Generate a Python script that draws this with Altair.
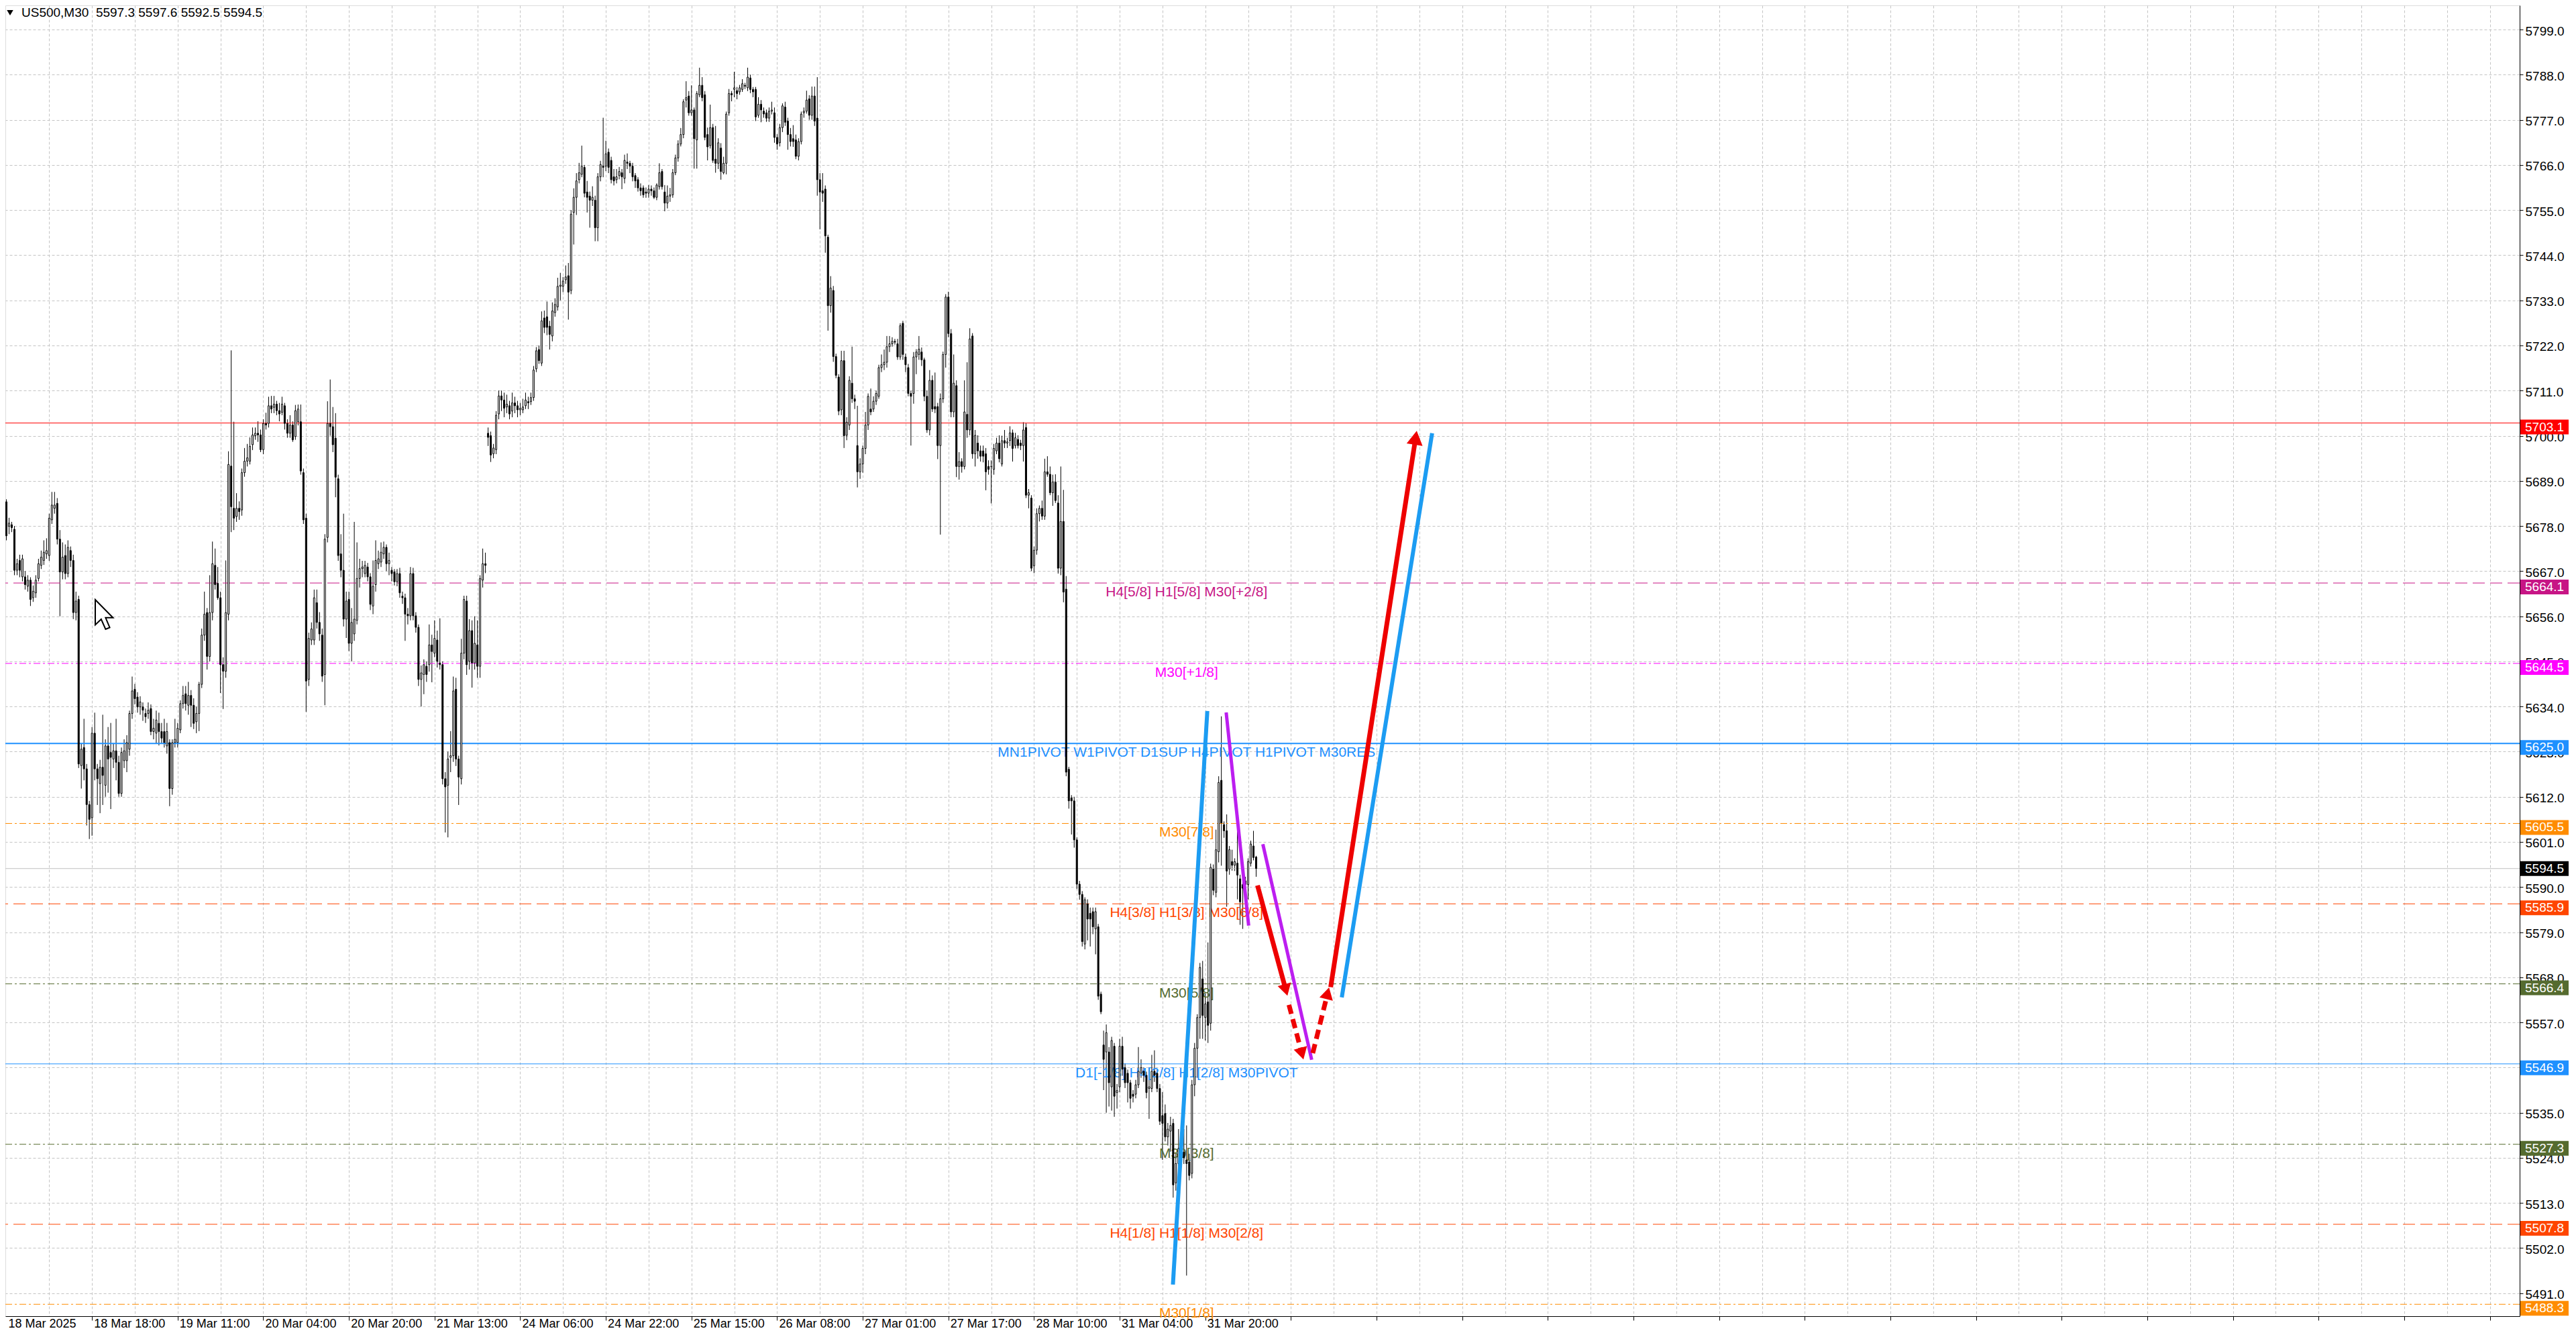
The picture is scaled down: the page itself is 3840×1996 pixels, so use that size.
import altair as alt
import pandas as pd

# ---------------- candle data (US500, M30), bar index 0..467 ----------------
O = [5683.9, 5677.9, 5678.3, 5677.2, 5667.2, 5669.6, 5665.6, 5665.6, 5663.3, 5664.8,
     5660.5, 5661.7, 5665.2, 5668.4, 5669.6, 5671.2, 5670.8, 5679.5, 5682.3, 5683.5,
     5674.8, 5666.8, 5670.8, 5666.4, 5672.0, 5669.6, 5656.9, 5660.1, 5619.6, 5624.0,
     5618.8, 5610.1, 5606.9, 5627.5, 5618.8, 5615.2, 5619.2, 5614.8, 5624.4, 5622.8,
     5621.2, 5623.2, 5620.4, 5612.8, 5620.8, 5620.8, 5623.6, 5632.3, 5638.2, 5636.3,
     5633.9, 5633.9, 5632.3, 5632.3, 5633.5, 5627.9, 5627.5, 5629.9, 5627.9, 5627.9,
     5624.4, 5625.2, 5614.0, 5625.2, 5625.2, 5628.3, 5634.7, 5637.1, 5634.3, 5636.7,
     5634.3, 5630.3, 5632.3, 5639.4, 5651.4, 5656.9, 5646.2, 5656.9, 5668.4, 5664.0,
     5660.5, 5644.2, 5642.6, 5656.5, 5692.6, 5682.3, 5680.3, 5682.3, 5681.9, 5691.0,
     5693.8, 5693.8, 5697.8, 5700.0, 5700.6, 5700.2, 5696.6, 5703.0, 5703.0, 5707.3,
     5706.9, 5707.7, 5706.1, 5705.7, 5707.3, 5703.0, 5700.6, 5702.6, 5699.8, 5703.4,
     5703.4, 5691.0, 5679.9, 5640.6, 5650.2, 5650.2, 5659.3, 5654.5, 5651.4, 5641.8,
     5675.2, 5703.0, 5702.2, 5699.4, 5689.5, 5671.2, 5667.2, 5655.3, 5660.1, 5649.4,
     5651.7, 5655.0, 5665.2, 5667.6, 5666.4, 5668.0, 5665.6, 5658.5, 5663.7, 5668.8,
     5669.2, 5671.2, 5672.8, 5668.8, 5667.2, 5666.8, 5664.4, 5666.4, 5660.9, 5660.5,
     5656.5, 5656.1, 5666.4, 5656.1, 5653.3, 5640.6, 5641.8, 5643.8, 5644.2, 5649.0,
     5647.0, 5650.2, 5644.6, 5644.2, 5616.4, 5614.8, 5621.6, 5622.0, 5638.2, 5621.2,
     5616.4, 5647.0, 5659.7, 5645.0, 5652.5, 5644.6, 5649.0, 5643.8, 5664.8, 5668.8,
     5700.6, 5700.0, 5695.6, 5696.6, 5705.3, 5709.7, 5708.7, 5707.0, 5707.3, 5706.0,
     5708.0, 5707.3, 5706.3, 5706.3, 5707.3, 5708.3, 5708.3, 5709.3, 5716.3, 5721.0,
     5717.7, 5728.7, 5729.0, 5726.7, 5724.3, 5730.0, 5731.4, 5736.4, 5736.4, 5738.0,
     5739.0, 5735.4, 5754.4, 5758.1, 5762.4, 5763.7, 5765.4, 5759.4, 5758.4, 5757.4,
     5757.4, 5750.7, 5763.1, 5765.7, 5765.7, 5769.1, 5767.1, 5763.1, 5762.4, 5763.4,
     5764.1, 5762.7, 5766.7, 5766.4, 5765.7, 5763.4, 5762.4, 5760.4, 5760.4, 5759.4,
     5759.1, 5760.1, 5759.7, 5758.1, 5760.7, 5764.4, 5759.4, 5756.7, 5758.4, 5758.7,
     5764.1, 5767.7, 5771.1, 5773.4, 5781.8, 5782.8, 5778.7, 5779.4, 5772.1, 5783.1,
     5785.4, 5783.1, 5773.4, 5770.7, 5775.1, 5767.4, 5766.4, 5770.1, 5764.1, 5766.4,
     5778.7, 5783.4, 5784.4, 5784.1, 5783.8, 5784.4, 5785.4, 5784.8, 5787.2, 5784.4,
     5784.4, 5778.1, 5780.8, 5779.1, 5778.7, 5777.4, 5779.1, 5778.7, 5772.7, 5771.4,
     5775.1, 5780.1, 5776.7, 5773.4, 5772.4, 5772.1, 5768.1, 5771.7, 5778.7, 5779.1,
     5782.1, 5778.1, 5782.8, 5777.4, 5762.4, 5759.7, 5760.1, 5748.4, 5731.7, 5735.4,
     5719.3, 5714.3, 5706.3, 5718.3, 5700.1, 5702.6, 5712.8, 5709.0, 5697.6, 5691.2,
     5693.1, 5696.9, 5702.6, 5706.5, 5706.5, 5708.4, 5709.6, 5716.6, 5717.3, 5717.9,
     5721.7, 5722.4, 5723.0, 5722.4, 5719.2, 5727.4, 5719.2, 5716.6, 5710.3, 5710.3,
     5719.2, 5719.8, 5720.4, 5718.5, 5709.6, 5701.4, 5713.5, 5707.1, 5707.1, 5697.6,
     5709.0, 5719.8, 5733.8, 5724.9, 5705.8, 5712.2, 5692.5, 5693.7, 5692.5, 5705.2,
     5701.4, 5724.3, 5695.6, 5698.2, 5696.3, 5696.3, 5695.6, 5692.5, 5692.5, 5691.8,
     5696.3, 5698.2, 5693.1, 5698.8, 5698.2, 5698.8, 5700.7, 5697.6, 5699.1, 5698.2,
     5697.6, 5702.0, 5685.5, 5684.8, 5668.3, 5672.1, 5681.0, 5682.3, 5680.4, 5691.2,
     5690.6, 5686.1, 5688.7, 5683.6, 5667.7, 5679.1, 5662.6, 5618.7, 5611.7, 5611.0,
     5601.5, 5590.7, 5588.2, 5576.1, 5585.9, 5583.6, 5584.0, 5579.8, 5580.3, 5563.9,
     5551.5, 5549.8, 5549.8, 5541.3, 5551.2, 5539.9, 5541.3, 5551.2, 5546.0, 5544.6,
     5542.3, 5539.5, 5539.5, 5541.8, 5544.6, 5545.1, 5544.1, 5540.9, 5540.9, 5545.1,
     5544.6, 5540.9, 5534.3, 5534.8, 5529.1, 5530.5, 5532.4, 5517.9, 5522.6, 5525.8,
     5525.4, 5523.5, 5523.0, 5520.2, 5541.8, 5550.7, 5558.2, 5567.6, 5558.2, 5562.0,
     5556.8, 5594.4, 5588.7, 5598.6, 5616.0, 5605.2, 5603.7, 5594.4, 5596.2, 5595.3,
     5595.8, 5592.0, 5590.6, 5590.6, 5590.6, 5595.8, 5600.0, 5597.3]

H = [5684.5, 5680.0, 5679.0, 5678.0, 5670.0, 5671.0, 5671.0, 5667.0, 5666.0, 5665.5,
     5663.5, 5666.0, 5670.0, 5672.0, 5674.5, 5675.0, 5681.0, 5686.3, 5686.3, 5684.8,
     5677.0, 5674.0, 5673.5, 5674.5, 5673.0, 5671.0, 5662.0, 5661.0, 5625.0, 5631.0,
     5620.0, 5611.0, 5629.0, 5632.5, 5620.0, 5621.0, 5632.0, 5626.0, 5629.0, 5630.0,
     5625.0, 5631.0, 5622.0, 5624.0, 5626.0, 5627.0, 5633.0, 5641.3, 5639.5, 5637.5,
     5636.5, 5635.0, 5633.5, 5635.0, 5634.5, 5631.0, 5633.0, 5632.5, 5630.0, 5631.0,
     5630.0, 5626.0, 5626.0, 5631.0, 5630.0, 5635.5, 5639.0, 5639.0, 5640.0, 5638.0,
     5636.0, 5634.0, 5640.0, 5653.0, 5662.0, 5658.0, 5666.0, 5674.2, 5672.5, 5668.0,
     5662.0, 5646.0, 5669.6, 5696.2, 5720.8, 5703.4, 5686.0, 5684.0, 5692.0, 5697.0,
     5698.0, 5699.6, 5702.0, 5702.0, 5703.5, 5701.5, 5704.0, 5705.6, 5709.5, 5709.7,
     5709.7, 5708.5, 5708.0, 5709.5, 5708.0, 5704.0, 5705.0, 5703.5, 5707.5, 5707.6,
     5707.6, 5692.0, 5681.0, 5652.0, 5654.5, 5662.5, 5662.5, 5657.0, 5653.0, 5676.0,
     5708.4, 5713.7, 5707.0, 5705.5, 5690.5, 5676.0, 5681.0, 5662.0, 5662.0, 5658.0,
     5679.0, 5674.0, 5670.0, 5669.5, 5669.5, 5669.0, 5666.5, 5669.6, 5674.5, 5672.0,
     5674.0, 5674.2, 5673.5, 5671.5, 5668.0, 5667.5, 5667.5, 5667.8, 5662.0, 5661.5,
     5658.0, 5668.0, 5667.8, 5657.0, 5654.0, 5644.0, 5645.5, 5645.0, 5654.0, 5651.5,
     5655.0, 5652.5, 5655.5, 5645.0, 5618.0, 5623.0, 5628.0, 5641.3, 5641.0, 5622.0,
     5650.5, 5661.0, 5661.0, 5655.3, 5655.0, 5656.0, 5655.0, 5666.0, 5672.5, 5671.5,
     5702.0, 5701.0, 5698.0, 5706.0, 5711.0, 5711.0, 5710.5, 5710.0, 5708.5, 5710.5,
     5709.5, 5708.5, 5708.0, 5709.0, 5710.5, 5709.5, 5710.5, 5717.0, 5721.6, 5722.0,
     5730.3, 5730.5, 5732.7, 5728.0, 5732.5, 5733.5, 5738.5, 5739.7, 5738.7, 5741.5,
     5742.1, 5755.0, 5760.3, 5764.0, 5766.5, 5770.7, 5766.0, 5762.1, 5759.5, 5760.8,
     5758.5, 5764.0, 5767.0, 5777.5, 5771.9, 5770.0, 5768.0, 5765.0, 5765.0, 5765.5,
     5765.0, 5768.5, 5768.8, 5767.0, 5766.5, 5764.0, 5763.0, 5761.5, 5761.0, 5760.5,
     5761.1, 5761.0, 5760.5, 5761.5, 5766.4, 5765.0, 5761.1, 5761.0, 5760.4, 5765.0,
     5768.5, 5772.0, 5775.0, 5782.0, 5786.4, 5784.0, 5785.4, 5780.0, 5784.0, 5789.7,
     5787.4, 5784.0, 5775.1, 5780.7, 5776.0, 5775.5, 5772.5, 5771.3, 5768.0, 5779.0,
     5784.5, 5784.0, 5788.7, 5785.0, 5785.5, 5786.9, 5786.0, 5789.7, 5788.0, 5785.0,
     5785.0, 5782.5, 5781.8, 5780.0, 5779.5, 5780.0, 5781.4, 5780.0, 5773.5, 5776.0,
     5781.0, 5781.4, 5777.5, 5775.0, 5775.7, 5773.4, 5772.5, 5779.0, 5780.0, 5784.1,
     5783.0, 5785.1, 5785.1, 5787.4, 5764.0, 5764.0, 5761.0, 5749.0, 5738.9, 5736.5,
     5720.0, 5715.0, 5720.7, 5720.7, 5704.5, 5714.5, 5721.7, 5710.0, 5707.3, 5694.5,
     5697.6, 5705.8, 5710.3, 5711.5, 5709.6, 5711.0, 5717.3, 5719.8, 5721.0, 5724.3,
     5724.3, 5724.0, 5723.6, 5723.6, 5727.4, 5728.0, 5720.0, 5717.5, 5711.0, 5720.4,
     5721.1, 5724.3, 5721.5, 5719.0, 5711.0, 5716.0, 5714.7, 5715.4, 5708.0, 5710.3,
     5720.5, 5734.5, 5735.1, 5726.0, 5719.8, 5713.5, 5696.0, 5694.5, 5713.5, 5717.9,
     5726.2, 5725.0, 5701.4, 5700.1, 5697.6, 5697.6, 5697.0, 5694.0, 5694.0, 5698.0,
     5699.5, 5700.1, 5700.0, 5701.4, 5699.5, 5702.3, 5701.5, 5700.7, 5700.1, 5699.0,
     5703.3, 5703.0, 5687.0, 5685.5, 5673.0, 5682.3, 5683.0, 5684.2, 5694.4, 5695.0,
     5692.5, 5690.5, 5690.6, 5685.5, 5692.5, 5686.8, 5665.8, 5619.3, 5612.4, 5612.0,
     5602.1, 5591.5, 5589.0, 5587.5, 5587.0, 5585.0, 5585.0, 5585.0, 5581.0, 5564.5,
     5555.0, 5556.5, 5551.0, 5553.5, 5552.0, 5542.0, 5553.0, 5553.5, 5547.0, 5545.5,
     5543.0, 5540.5, 5543.0, 5551.0, 5548.0, 5546.0, 5545.0, 5546.0, 5549.1, 5550.2,
     5545.5, 5542.0, 5540.0, 5537.0, 5532.5, 5534.0, 5533.5, 5525.0, 5531.0, 5528.0,
     5531.0, 5531.9, 5525.0, 5543.0, 5552.0, 5559.0, 5571.5, 5572.0, 5564.0, 5576.5,
     5595.7, 5595.5, 5604.0, 5617.0, 5631.6, 5606.0, 5607.7, 5600.0, 5599.1, 5597.0,
     5604.2, 5593.0, 5591.5, 5592.5, 5597.0, 5601.3, 5603.7, 5597.6]

L = [5674.5, 5676.0, 5676.5, 5666.0, 5666.0, 5665.5, 5664.5, 5662.5, 5662.0, 5658.5,
     5659.5, 5660.5, 5664.5, 5667.5, 5668.5, 5670.0, 5669.5, 5678.5, 5681.0, 5673.5,
     5656.0, 5665.0, 5665.0, 5665.5, 5668.0, 5655.3, 5655.0, 5619.0, 5614.0, 5616.0,
     5605.0, 5601.7, 5602.5, 5616.0, 5610.0, 5608.0, 5610.0, 5612.0, 5613.0, 5609.0,
     5619.0, 5616.0, 5612.0, 5612.0, 5619.0, 5618.0, 5622.0, 5631.0, 5634.5, 5632.5,
     5632.0, 5630.5, 5630.0, 5631.0, 5627.0, 5626.0, 5625.0, 5624.5, 5625.0, 5624.0,
     5622.5, 5609.7, 5612.5, 5624.0, 5624.0, 5627.5, 5633.5, 5633.0, 5632.0, 5629.0,
     5628.5, 5627.5, 5628.0, 5638.5, 5650.0, 5643.0, 5645.0, 5655.0, 5662.5, 5660.0,
     5637.3, 5633.4, 5641.0, 5655.0, 5676.5, 5677.0, 5679.0, 5679.5, 5680.5, 5690.0,
     5692.5, 5693.0, 5696.5, 5699.0, 5698.5, 5696.0, 5695.5, 5701.5, 5702.0, 5705.5,
     5705.5, 5705.0, 5703.5, 5705.0, 5701.5, 5699.5, 5699.5, 5698.5, 5699.0, 5702.5,
     5690.5, 5678.5, 5632.7, 5639.0, 5649.0, 5649.0, 5653.0, 5650.0, 5640.0, 5634.3,
     5674.0, 5700.0, 5696.0, 5685.0, 5669.5, 5665.5, 5653.5, 5650.7, 5647.5, 5645.0,
     5650.0, 5654.0, 5663.0, 5665.5, 5665.5, 5664.5, 5657.5, 5656.5, 5662.0, 5667.5,
     5668.0, 5670.0, 5667.0, 5666.0, 5664.5, 5663.5, 5663.3, 5660.5, 5659.0, 5650.0,
     5654.0, 5655.0, 5655.0, 5652.0, 5639.0, 5634.0, 5637.0, 5640.0, 5642.5, 5639.9,
     5646.0, 5643.5, 5643.0, 5615.0, 5603.3, 5602.1, 5618.0, 5620.5, 5619.5, 5610.0,
     5615.0, 5645.5, 5641.7, 5643.0, 5638.6, 5643.0, 5641.0, 5641.0, 5663.0, 5666.5,
     5697.5, 5693.6, 5694.5, 5695.5, 5704.0, 5706.0, 5704.5, 5705.5, 5704.0, 5704.5,
     5705.5, 5704.5, 5705.0, 5705.5, 5706.5, 5706.5, 5707.5, 5708.5, 5715.5, 5717.5,
     5717.0, 5725.0, 5724.5, 5721.0, 5723.0, 5729.0, 5730.5, 5733.0, 5735.0, 5737.0,
     5728.3, 5734.5, 5746.6, 5753.8, 5761.5, 5763.0, 5758.1, 5754.4, 5750.7, 5756.0,
     5747.4, 5747.4, 5762.0, 5763.0, 5764.5, 5764.0, 5761.5, 5761.0, 5761.5, 5762.5,
     5760.1, 5761.5, 5765.0, 5764.0, 5762.0, 5760.4, 5759.5, 5758.5, 5758.0, 5758.0,
     5758.0, 5758.5, 5757.7, 5757.4, 5760.0, 5760.0, 5754.7, 5755.4, 5757.0, 5758.0,
     5763.5, 5766.8, 5770.5, 5772.5, 5780.0, 5778.0, 5778.0, 5765.1, 5765.1, 5782.5,
     5781.5, 5772.0, 5767.1, 5770.0, 5766.5, 5764.1, 5765.0, 5762.4, 5763.7, 5763.7,
     5778.0, 5781.5, 5782.5, 5782.0, 5783.1, 5783.8, 5784.5, 5784.0, 5783.5, 5782.5,
     5776.7, 5777.5, 5776.4, 5777.5, 5776.5, 5776.5, 5778.3, 5771.4, 5769.7, 5770.5,
     5774.0, 5775.5, 5769.7, 5770.5, 5770.4, 5767.4, 5767.1, 5771.0, 5777.5, 5778.5,
     5777.0, 5777.0, 5775.5, 5758.5, 5750.3, 5757.0, 5744.6, 5725.6, 5730.0, 5718.0,
     5714.0, 5705.0, 5705.0, 5697.0, 5698.9, 5701.4, 5708.0, 5706.5, 5687.4, 5689.5,
     5691.0, 5695.5, 5701.4, 5705.0, 5705.8, 5707.5, 5709.0, 5715.5, 5716.0, 5716.6,
     5720.4, 5721.7, 5722.2, 5718.5, 5718.5, 5718.5, 5715.5, 5709.6, 5697.6, 5707.8,
     5715.0, 5718.5, 5717.0, 5708.4, 5700.7, 5700.1, 5705.8, 5705.5, 5694.3, 5675.9,
     5708.0, 5716.6, 5724.0, 5704.5, 5704.5, 5689.9, 5689.3, 5691.0, 5691.8, 5699.5,
     5700.1, 5694.4, 5692.5, 5694.4, 5693.7, 5693.5, 5686.7, 5690.5, 5683.5, 5690.5,
     5695.5, 5693.5, 5692.5, 5697.0, 5697.0, 5697.5, 5693.7, 5696.9, 5696.9, 5696.5,
     5693.7, 5684.8, 5682.3, 5667.0, 5666.5, 5671.0, 5679.1, 5679.5, 5679.5, 5690.0,
     5685.5, 5682.9, 5683.6, 5666.4, 5666.0, 5659.4, 5617.0, 5609.1, 5602.8, 5599.6,
     5589.5, 5586.9, 5575.5, 5574.8, 5577.0, 5575.5, 5578.5, 5573.6, 5562.5, 5559.0,
     5540.5, 5535.0, 5536.5, 5535.5, 5534.0, 5536.0, 5540.0, 5544.0, 5541.0, 5537.5,
     5536.0, 5537.5, 5538.5, 5541.0, 5543.5, 5542.5, 5538.5, 5533.5, 5540.0, 5542.5,
     5540.0, 5532.0, 5523.5, 5528.0, 5527.0, 5525.5, 5514.3, 5516.0, 5521.5, 5522.0,
     5522.5, 5495.3, 5518.5, 5519.0, 5539.0, 5543.5, 5553.0, 5553.0, 5552.6, 5552.0,
     5555.0, 5588.0, 5587.5, 5596.0, 5595.2, 5602.0, 5585.2, 5593.0, 5594.0, 5593.9,
     5587.0, 5580.8, 5579.8, 5588.0, 5587.0, 5595.0, 5596.5, 5592.5]

C = [5675.6, 5678.7, 5677.6, 5667.2, 5668.8, 5667.2, 5670.0, 5663.7, 5664.8, 5660.1,
     5662.1, 5664.8, 5668.8, 5670.4, 5671.6, 5672.0, 5679.9, 5683.1, 5683.1, 5674.8,
     5666.8, 5670.4, 5666.4, 5672.8, 5669.6, 5656.9, 5659.7, 5620.0, 5623.6, 5618.8,
     5610.1, 5606.5, 5627.5, 5618.8, 5616.4, 5619.2, 5617.2, 5624.4, 5621.2, 5621.6,
     5623.2, 5620.4, 5612.8, 5622.8, 5623.2, 5625.2, 5632.3, 5637.8, 5635.9, 5633.9,
     5635.1, 5633.1, 5631.5, 5633.1, 5627.9, 5628.7, 5630.7, 5627.9, 5626.3, 5625.2,
     5627.9, 5614.0, 5625.2, 5626.0, 5628.7, 5634.7, 5636.7, 5634.7, 5636.7, 5634.3,
     5629.9, 5632.3, 5639.4, 5651.4, 5656.5, 5646.2, 5656.9, 5668.8, 5663.7, 5660.5,
     5644.2, 5642.6, 5656.9, 5693.0, 5682.7, 5679.9, 5682.3, 5681.5, 5691.0, 5693.8,
     5694.6, 5697.4, 5700.2, 5700.6, 5700.2, 5696.6, 5703.0, 5702.6, 5707.3, 5706.5,
     5707.7, 5706.1, 5705.3, 5707.7, 5703.0, 5700.6, 5702.6, 5699.0, 5706.1, 5706.5,
     5691.4, 5679.5, 5640.2, 5650.6, 5652.9, 5660.5, 5654.5, 5651.7, 5641.4, 5674.8,
     5703.0, 5702.2, 5697.8, 5689.9, 5670.8, 5667.2, 5655.3, 5659.7, 5649.4, 5654.5,
     5655.3, 5665.2, 5667.6, 5668.0, 5668.4, 5665.6, 5658.9, 5663.3, 5669.6, 5670.0,
     5671.6, 5672.8, 5668.8, 5669.6, 5666.4, 5664.4, 5666.4, 5661.7, 5660.5, 5656.5,
     5656.1, 5666.4, 5656.1, 5653.3, 5640.6, 5642.2, 5644.2, 5641.8, 5649.0, 5647.4,
     5650.6, 5645.0, 5644.2, 5616.4, 5614.4, 5621.2, 5622.0, 5637.8, 5621.2, 5616.8,
     5647.0, 5660.1, 5644.2, 5652.5, 5644.6, 5649.4, 5643.8, 5665.2, 5668.8, 5668.4,
     5699.6, 5695.3, 5697.0, 5705.0, 5709.7, 5708.7, 5706.7, 5707.7, 5705.3, 5708.0,
     5707.3, 5706.3, 5706.7, 5707.0, 5708.7, 5708.0, 5709.3, 5716.0, 5720.7, 5718.3,
     5728.0, 5726.4, 5726.4, 5724.7, 5730.4, 5732.0, 5736.4, 5736.7, 5737.7, 5738.7,
     5735.0, 5754.0, 5758.1, 5762.1, 5764.1, 5765.7, 5759.1, 5758.1, 5757.4, 5758.1,
     5750.7, 5763.1, 5766.1, 5765.4, 5768.7, 5765.4, 5762.4, 5762.1, 5763.1, 5764.4,
     5763.1, 5767.1, 5766.4, 5765.7, 5763.1, 5762.1, 5760.4, 5759.7, 5758.7, 5759.1,
     5760.1, 5759.7, 5758.1, 5761.1, 5764.1, 5760.7, 5756.7, 5758.4, 5758.7, 5764.1,
     5767.7, 5771.1, 5773.4, 5781.4, 5782.4, 5778.7, 5779.4, 5772.4, 5783.4, 5785.4,
     5782.4, 5772.7, 5770.4, 5775.1, 5767.1, 5766.4, 5771.4, 5764.4, 5766.4, 5778.4,
     5783.4, 5783.1, 5784.8, 5783.4, 5784.8, 5785.8, 5785.2, 5787.4, 5784.4, 5783.8,
     5777.7, 5780.8, 5779.4, 5778.4, 5777.4, 5779.1, 5779.4, 5772.7, 5771.1, 5775.1,
     5780.4, 5776.4, 5773.4, 5771.7, 5771.7, 5768.1, 5771.7, 5778.4, 5779.1, 5781.8,
     5778.1, 5782.8, 5776.7, 5762.4, 5759.4, 5759.1, 5748.7, 5731.7, 5736.0, 5719.3,
     5714.7, 5706.0, 5718.3, 5700.0, 5703.3, 5713.5, 5709.0, 5708.4, 5691.2, 5693.1,
     5696.9, 5702.6, 5709.6, 5705.8, 5708.4, 5710.3, 5716.6, 5717.3, 5717.9, 5721.7,
     5722.4, 5723.0, 5722.8, 5719.2, 5726.8, 5719.8, 5717.3, 5710.3, 5709.6, 5719.2,
     5720.4, 5721.1, 5718.5, 5709.6, 5701.4, 5713.5, 5706.5, 5706.5, 5697.6, 5709.0,
     5719.8, 5733.8, 5724.9, 5705.8, 5712.8, 5692.5, 5693.7, 5692.5, 5705.8, 5701.4,
     5723.6, 5695.6, 5700.1, 5696.3, 5695.0, 5695.0, 5691.2, 5691.8, 5692.5, 5696.9,
     5698.2, 5694.4, 5698.8, 5698.2, 5698.5, 5700.7, 5696.9, 5699.5, 5697.6, 5697.6,
     5701.4, 5685.5, 5686.1, 5667.7, 5672.1, 5681.0, 5682.3, 5680.4, 5691.2, 5690.6,
     5686.1, 5688.7, 5684.2, 5667.7, 5679.1, 5661.9, 5618.0, 5611.0, 5611.0, 5601.5,
     5590.7, 5588.2, 5576.7, 5586.9, 5582.2, 5582.2, 5580.3, 5584.0, 5563.4, 5559.6,
     5548.0, 5554.5, 5542.3, 5552.6, 5539.0, 5540.4, 5551.2, 5545.6, 5542.3, 5542.3,
     5538.5, 5539.0, 5541.8, 5545.1, 5546.0, 5544.1, 5539.9, 5541.3, 5545.1, 5544.1,
     5540.9, 5532.9, 5532.4, 5529.1, 5531.0, 5531.9, 5517.4, 5522.6, 5526.3, 5524.4,
     5524.0, 5522.6, 5519.7, 5541.8, 5550.7, 5558.2, 5570.4, 5558.7, 5561.5, 5556.3,
     5594.8, 5589.2, 5599.1, 5615.5, 5605.6, 5603.7, 5593.9, 5599.1, 5595.3, 5596.2,
     5592.9, 5586.4, 5589.7, 5591.5, 5596.2, 5600.5, 5597.2, 5594.5]

# ---------------- time axis labels (every 32 bars) ----------------
TIME_BARS = [0, 32, 64, 96, 128, 160, 192, 224, 256, 288, 320, 352, 384, 416, 448]
TIME_LABELS = ["18 Mar 2025", "18 Mar 18:00", "19 Mar 11:00", "20 Mar 04:00", "20 Mar 20:00",
               "21 Mar 13:00", "24 Mar 06:00", "24 Mar 22:00", "25 Mar 15:00", "26 Mar 08:00",
               "27 Mar 01:00", "27 Mar 17:00", "28 Mar 10:00", "31 Mar 04:00", "31 Mar 20:00"]
PRICE_TICKS = [5491.0, 5502.0, 5513.0, 5524.0, 5535.0, 5546.0, 5557.0, 5568.0, 5579.0, 5590.0,
               5601.0, 5612.0, 5623.0, 5634.0, 5645.0, 5656.0, 5667.0, 5678.0, 5689.0, 5700.0,
               5711.0, 5722.0, 5733.0, 5744.0, 5755.0, 5766.0, 5777.0, 5788.0, 5799.0]
GRID_BARS = list(range(16, 937, 16))

# ---------------- horizontal levels ----------------
LEVEL_PRICE = [5703.1, 5664.1, 5644.5, 5625.0, 5605.5, 5594.5, 5585.9, 5566.4, 5546.9, 5527.3, 5507.8, 5488.3]
LEVEL_BOX = ["#FF0000", "#C71585", "#FF00FF", "#1E90FF", "#FF8C00", "#000000",
             "#FF4500", "#556B2F", "#1E90FF", "#556B2F", "#FF4500", "#FF8C00"]
LEVEL_LINE = ["#FF0000", "#C71585", "#FF00FF", "#1E90FF", "#FF8C00", "#C0C0C0",
              "#FF4500", "#556B2F", "#1E90FF", "#556B2F", "#FF4500", "#FF8C00"]
LEVEL_STYLE = ["solid", "dash", "dashdot", "thick", "dashdot", "bid",
               "dash", "dashdot", "solid", "dashdot", "dash", "dashdot"]
LEVEL_TEXT = ["", "H4[5/8] H1[5/8] M30[+2/8]", "M30[+1/8]",
              "MN1PIVOT W1PIVOT D1SUP H4PIVOT H1PIVOT M30RES", "M30[7/8]", "",
              "H4[3/8] H1[3/8] M30[6/8]", "M30[5/8]", "D1[-1/8] H4[2/8] H1[2/8] M30PIVOT",
              "M30[3/8]", "H4[1/8] H1[1/8] M30[2/8]", "M30[1/8]"]
LABEL_BAR = 441

# ---------------- drawn trend lines / arrows (bar index, price) ----------------
BLUE_SEG = [1, 1, 2, 2]
BLUE_I = [435.9, 448.75, 499.0, 532.75]
BLUE_P = [5493.1, 5632.9, 5563.1, 5700.6]
PURPLE_SEG = [1, 1, 2, 2]
PURPLE_I = [455.8, 464.2, 469.5, 487.75]
PURPLE_P = [5632.55, 5580.6, 5600.45, 5547.9]
RED_SEG = [1, 1, 2, 2]
RED_I = [467.5, 478.1, 494.85, 526.6]
RED_P = [5590.4, 5564.9, 5565.6, 5699.5]
REDDASH_SEG = [1, 1, 2, 2]
REDDASH_I = [479.25, 484.1, 488.15, 493.7]
REDDASH_P = [5561.3, 5549.4, 5549.5, 5564.1]
HEAD_I = [478.1, 484.1, 493.7, 526.6]
HEAD_P = [5564.9, 5549.4, 5564.1, 5699.5]
HEAD_ANGLE = [164.7, 165.0, 13.9, 8.8]
HEAD_SIZE = [420, 420, 420, 576]

# ---------------- layout ----------------
W, HGT = 3748, 1954
XDOM = [0.875, 937.875]
YDOM = [5485.40, 5804.89]
FONT = "Liberation Sans"
GRID = "#C4C4C4"
CURSOR_PATH = "M0,0 L0,1.7 L0.4,1.32 L0.7,2.0 L0.98,1.88 L0.7,1.22 L1.2,1.22 Z"

xs = alt.Scale(domain=XDOM, nice=False, zero=False)
ys = alt.Scale(domain=YDOM, nice=False, zero=False)

XAX = alt.Axis(values=GRID_BARS, labels=False, title=None,
               grid=True, gridColor=GRID, gridDash=[4, 3], gridWidth=1,
               domainColor="black", domainWidth=1, tickColor="black", tickSize=6,
               tickOpacity={"condition": {"test": "datum.value % 32 === 0", "value": 1}, "value": 0})
YAX = alt.Axis(orient="right", values=PRICE_TICKS, format=".1f", title=None,
               grid=True, gridColor=GRID, gridDash=[4, 3], gridWidth=1,
               domainColor="black", domainWidth=1, tickColor="black", tickSize=5,
               labelFont=FONT, labelFontSize=19, labelColor="black", labelPadding=3,
               labelOffset=2)


def X(field):
    return alt.X(field, scale=xs, axis=XAX)


def Y(field):
    return alt.Y(field, scale=ys, axis=YAX)


bars = pd.DataFrame({"i": list(range(len(C))), "o": O, "h": H, "l": L, "c": C})
levels = pd.DataFrame({"p": LEVEL_PRICE, "box": LEVEL_BOX, "line": LEVEL_LINE,
                       "style": LEVEL_STYLE, "txt": LEVEL_TEXT, "lx": LABEL_BAR})
tl = pd.DataFrame({"b": TIME_BARS, "t": TIME_LABELS})

# candles
wicks = alt.Chart(bars).mark_rule(color="black", strokeWidth=1).encode(
    x=X("i:Q"), y=Y("l:Q"), y2="h:Q",
)
bodies = alt.Chart(bars).mark_bar(size=2, stroke="black", strokeWidth=1).encode(
    x=X("i:Q"), y=Y("o:Q"), y2="c:Q",
    fill=alt.condition("datum.c < datum.o", alt.value("black"), alt.value("white")),
)


def level_rule(style, width, dash=None):
    kw = dict(strokeWidth=width)
    if dash is not None:
        kw["strokeDash"] = dash
    return alt.Chart(levels).transform_filter(f"datum.style == '{style}'").mark_rule(**kw).encode(
        y=Y("p:Q"),
        color=alt.Color("line:N", scale=None),
    )


lv_solid = level_rule("solid", 1)
lv_thick = level_rule("thick", 2)
lv_bid = level_rule("bid", 1)
lv_dash = level_rule("dash", 1, [18, 8])
lv_dashdot = level_rule("dashdot", 1, [10, 4, 3, 4])

lv_text = alt.Chart(levels).transform_filter("datum.txt != ''").mark_text(
    align="center", baseline="alphabetic", dy=20, font=FONT, fontSize=21
).encode(
    x=X("lx:Q"), y=Y("p:Q"),
    text="txt:N",
    color=alt.Color("box:N", scale=None),
)

# price boxes on the right scale
box_lv = alt.Chart(levels).transform_filter("datum.style != 'bid'").mark_tick(
    orient="horizontal", thickness=22, size=72, yOffset=6, opacity=1
).encode(
    x=alt.value(3785), y=Y("p:Q"),
    color=alt.Color("box:N", scale=None),
)
box_bid = alt.Chart(levels).transform_filter("datum.style == 'bid'").mark_tick(
    orient="horizontal", thickness=22, size=72, opacity=1
).encode(
    x=alt.value(3785), y=Y("p:Q"),
    color=alt.Color("box:N", scale=None),
)
box_txt_lv = alt.Chart(levels).transform_filter("datum.style != 'bid'").mark_text(
    align="left", baseline="middle", dy=6, font=FONT, fontSize=19, color="white"
).encode(
    x=alt.value(3756), y=Y("p:Q"),
    text=alt.Text("p:Q", format=".1f"),
)
box_txt_bid = alt.Chart(levels).transform_filter("datum.style == 'bid'").mark_text(
    align="left", baseline="middle", font=FONT, fontSize=19, color="white"
).encode(
    x=alt.value(3756), y=Y("p:Q"),
    text=alt.Text("p:Q", format=".1f"),
)

# time labels below the axis
time_txt = alt.Chart(tl).mark_text(
    align="left", baseline="alphabetic", dx=3, font=FONT, fontSize=18, color="black"
).encode(
    x=X("b:Q"),
    y=alt.value(1971),
    text="t:N",
)


def seg_line(seg, ii, pp, color, width, dash=None):
    df = pd.DataFrame({"s": seg, "i": ii, "p": pp})
    kw = dict(color=color, strokeWidth=width, strokeCap="butt")
    if dash is not None:
        kw["strokeDash"] = dash
    return alt.Chart(df).mark_line(**kw).encode(
        x=X("i:Q"), y=Y("p:Q"), detail="s:N",
    )


blue = seg_line(BLUE_SEG, BLUE_I, BLUE_P, "#1C9CF2", 6)
purple = seg_line(PURPLE_SEG, PURPLE_I, PURPLE_P, "#BC1EF0", 5)
red = seg_line(RED_SEG, RED_I, RED_P, "#EE0000", 7)
reddash = seg_line(REDDASH_SEG, REDDASH_I, REDDASH_P, "#EE0000", 7, [14, 8])

heads = alt.Chart(pd.DataFrame({"i": HEAD_I, "p": HEAD_P, "a": HEAD_ANGLE, "sz": HEAD_SIZE})).mark_point(
    shape="triangle-up", filled=True, color="#EE0000", opacity=1, strokeWidth=0
).encode(
    x=X("i:Q"), y=Y("p:Q"),
    angle=alt.Angle("a:Q", scale=None),
    size=alt.Size("sz:Q", scale=None),
)

# header
header_str = "US500,M30\u00a0\u00a0" + " ".join(f"{v:.1f}" for v in (O[-1], H[-1], L[-1], C[-1]))
header = alt.Chart(pd.DataFrame({"t": [header_str]})).mark_text(
    align="left", baseline="middle", font=FONT, fontSize=19, color="black"
).encode(x=alt.value(24), y=alt.value(11), text="t:N")
header_tri = alt.Chart(pd.DataFrame({"t": [1]})).mark_point(
    shape="triangle-down", filled=True, color="black", size=90, opacity=1
).encode(x=alt.value(7), y=alt.value(11))

# mouse pointer left on the chart
cursor = alt.Chart(pd.DataFrame({"t": [1]})).mark_point(
    shape=CURSOR_PATH, filled=True, fill="white", stroke="black", strokeWidth=2,
    size=1936, opacity=1, strokeJoin="miter"
).encode(x=alt.value(134), y=alt.value(886))

chart = alt.layer(
    wicks, lv_solid, lv_thick, lv_bid, lv_dash, lv_dashdot, lv_text,
    bodies,
    blue, purple, red, reddash, heads,
    box_lv, box_bid, box_txt_lv, box_txt_bid,
    time_txt, header, header_tri, cursor,
).properties(
    width=W, height=HGT,
    autosize=alt.AutoSizeParams(type="none"),
    padding={"left": 0, "top": 0, "right": 74, "bottom": 22},
).configure_view(
    stroke="black", strokeWidth=1
).configure(background="white")

chart.save("out.html", embed_options={"renderer": "svg", "actions": False})
